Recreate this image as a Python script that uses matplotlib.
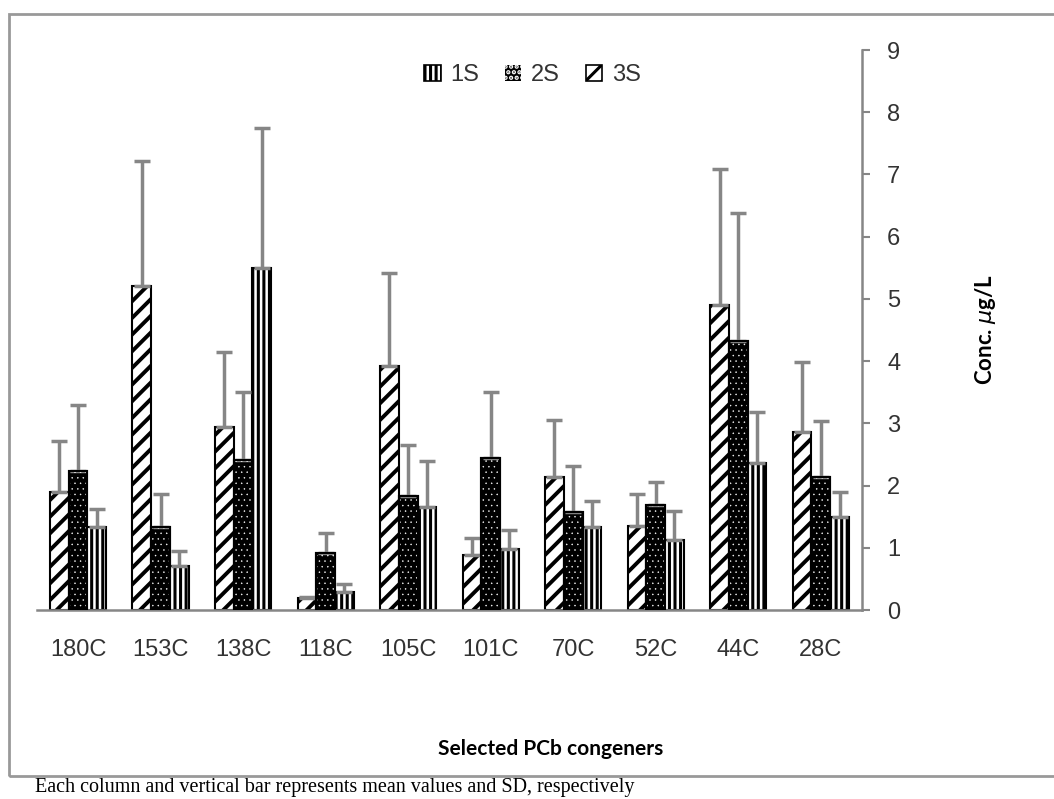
import matplotlib
matplotlib.use('Agg')
import matplotlib.pyplot as plt
from matplotlib.patches import Rectangle
import numpy as np

categories = ['180C', '153C', '138C', '118C', '105C', '101C', '70C', '52C', '44C', '28C']
mean_3s = [1.90, 5.21, 2.94, 0.19, 3.92, 0.88, 2.14, 1.35, 4.90, 2.86]
sd_3s = [0.81, 2.00, 1.21, 0.02, 1.49, 0.28, 0.91, 0.51, 2.19, 1.13]
mean_2s = [2.23, 1.33, 2.41, 0.92, 1.84, 2.44, 1.58, 1.69, 4.33, 2.14]
sd_2s = [1.07, 0.53, 1.09, 0.32, 0.81, 1.06, 0.74, 0.37, 2.05, 0.90]
mean_1s = [1.33, 0.71, 5.50, 0.29, 1.66, 0.98, 1.34, 1.13, 2.37, 1.49]
sd_1s = [0.30, 0.24, 2.25, 0.13, 0.74, 0.30, 0.42, 0.46, 0.82, 0.40]
y_ticks = [0, 1, 2, 3, 4, 5, 6, 7, 8, 9]

plt.rcParams['font.family'] = ['Liberation Sans', 'DejaVu Sans']
plt.rcParams['hatch.linewidth'] = 2.2


def hatch_lw(patches, lw):
    # per-artist hatch width where this matplotlib supports it
    for p in patches:
        if hasattr(p, 'set_hatch_linewidth'):
            p.set_hatch_linewidth(lw)


def dark_caps(container):
    for cap in container.errorbar.lines[1]:
        cap.set_color('#404040')


fig = plt.figure(figsize=(10.54, 7.99), dpi=100)
ax = fig.add_axes([0.0349, 0.2365, 0.7830, 0.7009])

x = np.arange(len(categories))
w = 0.227
grey = '#868686'
err_kw = dict(ecolor=grey, elinewidth=2.5, capsize=6, capthick=2.5)
zero = np.zeros(len(x))

# 3S : diagonal stripes
b3 = ax.bar(x - w, mean_3s, w, color='white', edgecolor='black', hatch='//', linewidth=1.5,
            yerr=[zero, sd_3s], error_kw=err_kw, zorder=2)
hatch_lw(b3, 2.8)
dark_caps(b3)
# 2S : black with white dots
b2 = ax.bar(x, mean_2s, w, color='black', edgecolor='black', linewidth=1.5,
            yerr=[zero, sd_2s], error_kw=err_kw, zorder=2)
dark_caps(b2)
with plt.rc_context({'hatch.linewidth': 0.3}):
    dots = ax.bar(x, mean_2s, w, color='none', edgecolor='white', hatch='...', linewidth=0, zorder=3)
hatch_lw(dots, 0.3)
ax.bar(x, mean_2s, w, color='none', edgecolor='black', linewidth=1.5, zorder=4)
# 1S : vertical stripes
b1 = ax.bar(x + w, mean_1s, w, color='white', edgecolor='black', hatch='|||', linewidth=1.5,
            yerr=[zero, sd_1s], error_kw=err_kw, zorder=2)
hatch_lw(b1, 2.2)
dark_caps(b1)

ax.set_xlim(-0.5, len(categories) - 0.5)
ax.set_ylim(0, 9)
ax.set_yticks(y_ticks)
ax.yaxis.tick_right()
ax.set_xticks(x)
ax.set_xticklabels(categories)
ax.tick_params(axis='x', length=0, pad=21, labelsize=17, labelcolor='#333333')
ax.tick_params(axis='y', direction='out', length=6, width=1.5, color=grey, pad=12,
               labelsize=17, labelcolor='#333333')
for s in ['left', 'top']:
    ax.spines[s].set_visible(False)
for s in ['right', 'bottom']:
    ax.spines[s].set_color(grey)
    ax.spines[s].set_linewidth(1.8)

# legend (1S, 2S, 3S)
h1 = Rectangle((0, 0), 1, 1, facecolor='white', edgecolor='black', hatch='|||', linewidth=1.2)
with plt.rc_context({'hatch.linewidth': 0.3}):
    h2 = Rectangle((0, 0), 1, 1, facecolor='black', edgecolor='white', hatch='...', linewidth=0)
hatch_lw([h2], 0.3)
h3 = Rectangle((0, 0), 1, 1, facecolor='white', edgecolor='black', hatch='//', linewidth=1.2)
fig.legend([h1, h2, h3], ['1S', '2S', '3S'], loc='center', bbox_to_anchor=(0.505, 0.906),
           ncol=3, frameon=False, fontsize=17, handlelength=0.7, handleheight=0.7,
           handletextpad=0.4, columnspacing=1.1, labelcolor='#333333')

fig.text(0.522, 0.063, 'Selected PCb congeners', ha='center', va='center',
         fontsize=15, fontweight='bold', family=['Lato', 'DejaVu Sans'])
fig.text(0.935, 0.587, r'Conc. $\mu$g/L', ha='center', va='center', rotation=90,
         fontsize=16, fontweight='bold', family=['Lato', 'DejaVu Sans'])
fig.text(0.033, 0.003, 'Each column and vertical bar represents mean values and SD, respectively',
         ha='left', va='bottom', fontsize=14.5, family=['Liberation Serif', 'DejaVu Serif'])

# outer frame
fig.patches.append(Rectangle((9 / 1054, 1 - 776 / 799), 1.1, (776 - 14) / 799,
                             transform=fig.transFigure, fill=False, edgecolor='#999999',
                             linewidth=2, clip_on=False))

fig.savefig('out.png', dpi=100)
